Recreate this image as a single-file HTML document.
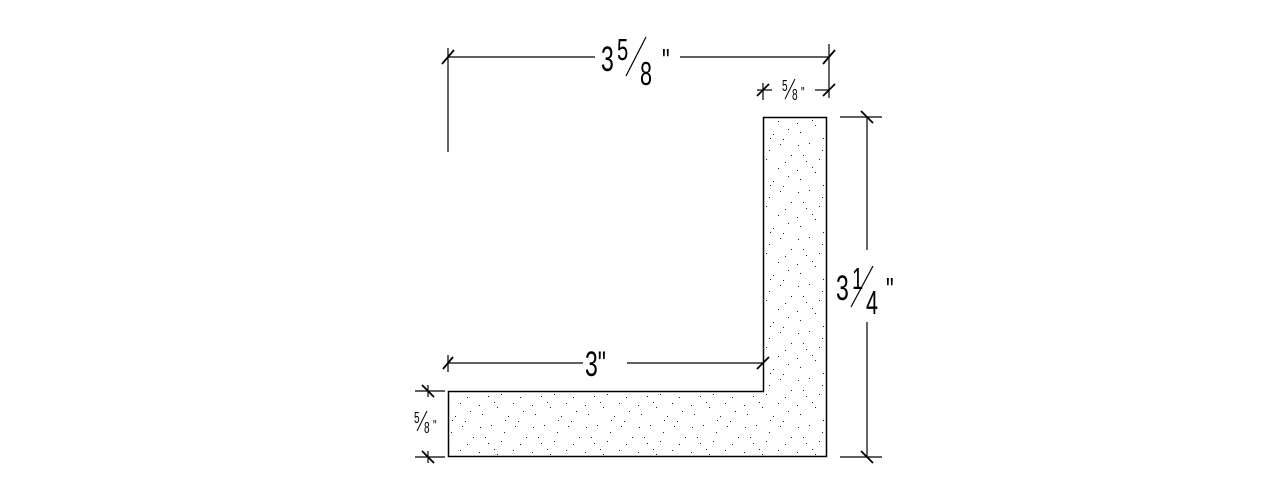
<!DOCTYPE html>
<html><head><style>html,body{margin:0;padding:0;background:#fff;width:1280px;height:498px;overflow:hidden}</style></head>
<body>
<svg width="1280" height="498" xmlns="http://www.w3.org/2000/svg" font-family="Liberation Sans, sans-serif">
<defs>
<pattern id="d" width="53" height="47" patternUnits="userSpaceOnUse">
<g fill="#222">
<rect x="3" y="4" width="1" height="1"/><rect x="14" y="2" width="1" height="1"/><rect x="27" y="9" width="1" height="1"/>
<rect x="8" y="14" width="1" height="1"/><rect x="20" y="31" width="1" height="1"/><rect x="43" y="21" width="1" height="1"/>
<rect x="5" y="38" width="1" height="1"/><rect x="17" y="26" width="1" height="1"/><rect x="38" y="3" width="1" height="1"/>
<rect x="11" y="20" width="1" height="1"/><rect x="31" y="40" width="1" height="1"/><rect x="49" y="14" width="1" height="1"/>
<rect x="24" y="18" width="1" height="1"/><rect x="46" y="35" width="1" height="1"/><rect x="36" y="27" width="1" height="1"/>
<rect x="2" y="29" width="1" height="1"/><rect x="28" y="44" width="1" height="1"/><rect x="41" y="45" width="1" height="1"/>
</g>
</pattern>
</defs>
<path d="M763.5 117.5H826.5V456.5H448.5V391.5H763.5Z" fill="url(#d)" stroke="#000" stroke-width="1.5"/>
<g stroke="#000" stroke-width="1.2" fill="none">
<line x1="448" y1="48" x2="448" y2="152"/>
<line x1="829" y1="44" x2="829" y2="98"/>
<line x1="448" y1="57" x2="595" y2="57"/>
<line x1="680" y1="57" x2="829" y2="57"/>
<line x1="442" y1="64" x2="454" y2="50" stroke-width="1.8"/>
<line x1="823" y1="64" x2="835" y2="50" stroke-width="1.8"/>
<line x1="757" y1="90" x2="772" y2="90"/>
<line x1="815" y1="90" x2="829" y2="90"/>
<line x1="763" y1="83" x2="763" y2="100"/>
<line x1="757" y1="96" x2="769" y2="84" stroke-width="1.8"/>
<line x1="823" y1="96" x2="835" y2="84" stroke-width="1.8"/>
<line x1="840" y1="117" x2="882" y2="117"/>
<line x1="840" y1="457" x2="882" y2="457"/>
<line x1="867" y1="117" x2="867" y2="250"/>
<line x1="867" y1="322" x2="867" y2="457"/>
<line x1="861" y1="111" x2="873" y2="123" stroke-width="1.8"/>
<line x1="861" y1="451" x2="873" y2="463" stroke-width="1.8"/>
<line x1="448" y1="355" x2="448" y2="372"/>
<line x1="448" y1="363" x2="583" y2="363"/>
<line x1="627" y1="363" x2="763" y2="363"/>
<line x1="443" y1="369" x2="453" y2="357" stroke-width="1.8"/>
<line x1="757" y1="369" x2="769" y2="357" stroke-width="1.8"/>
<line x1="415" y1="391" x2="445" y2="391"/>
<line x1="415" y1="457" x2="445" y2="457"/>
<line x1="428" y1="385" x2="428" y2="397"/>
<line x1="428" y1="451" x2="428" y2="463"/>
<line x1="422" y1="385" x2="434" y2="397" stroke-width="1.8"/>
<line x1="422" y1="451" x2="434" y2="463" stroke-width="1.8"/>
</g>
<g fill="#000">
<g transform="translate(601,71) scale(0.72,1.1)"><text font-size="32">3</text></g>
<g transform="translate(617,60) scale(0.72,1.1)"><text font-size="28">5</text></g>
<line x1="626" y1="76" x2="646" y2="37" stroke="#000" stroke-width="1.2"/>
<g transform="translate(640,85) scale(0.72,1.1)"><text font-size="30">8</text></g>
<g transform="translate(662,72) scale(0.72,1.1)"><text font-size="30">"</text></g>

<g transform="translate(782,91) scale(0.72,1.1)"><text font-size="14">5</text></g>
<line x1="785" y1="99" x2="795" y2="79" stroke="#000"/>
<g transform="translate(792,100) scale(0.72,1.1)"><text font-size="14">8</text></g>
<g transform="translate(801,98) scale(0.72,1.1)"><text font-size="14">"</text></g>

<g transform="translate(836,300) scale(0.72,1.1)"><text font-size="32">3</text></g>
<g transform="translate(852,289) scale(0.72,1.1)"><text font-size="28">1</text></g>
<line x1="851" y1="307" x2="873" y2="266" stroke="#000" stroke-width="1.2"/>
<g transform="translate(866,314) scale(0.72,1.1)"><text font-size="30">4</text></g>
<g transform="translate(886,301) scale(0.72,1.1)"><text font-size="30">"</text></g>

<g transform="translate(585,376) scale(0.72,1.1)"><text font-size="32">3"</text></g>

<g transform="translate(414,423) scale(0.72,1.1)"><text font-size="14">5</text></g>
<line x1="417" y1="431" x2="427" y2="411" stroke="#000"/>
<g transform="translate(424,433) scale(0.72,1.1)"><text font-size="14">8</text></g>
<g transform="translate(433,431) scale(0.72,1.1)"><text font-size="14">"</text></g>
</g>
</svg>
</body></html>
